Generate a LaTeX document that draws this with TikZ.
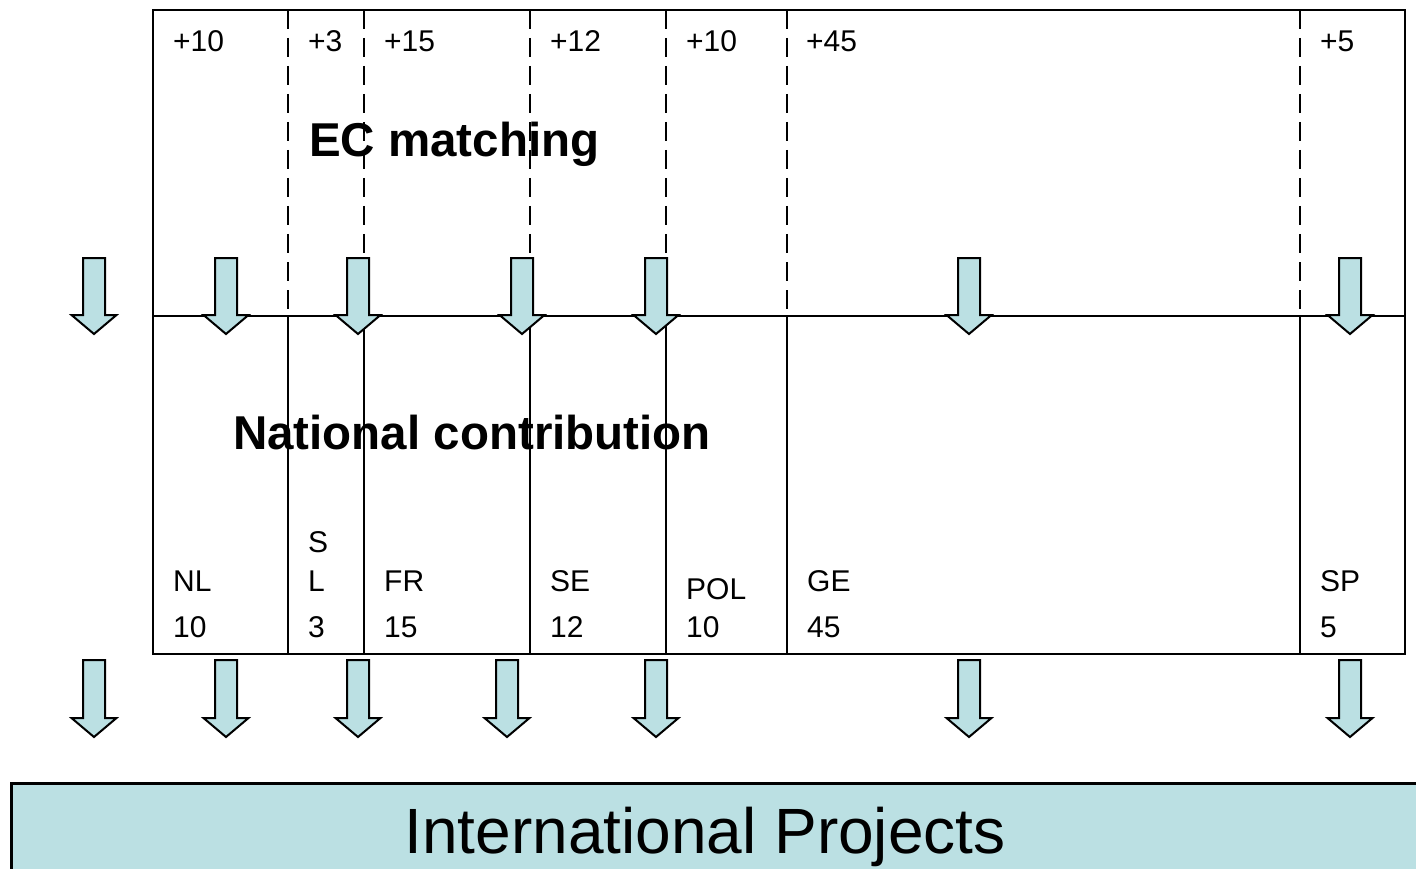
\documentclass[tikz,border=0pt]{standalone}
\usepackage{fontspec}
\setmainfont{Liberation Sans}
\definecolor{arrowfill}{RGB}{187,224,227}
\begin{document}
\begin{tikzpicture}[x=1pt,y=-1pt,
  lbl/.style={anchor=base west,inner sep=0pt,font=\fontsize{30}{30}\selectfont},
  big/.style={anchor=base west,inner sep=0pt,font=\fontsize{47.5}{47.5}\selectfont\bfseries},
  frame/.style={line width=2.8pt},
  dashline/.style={line width=2.2pt,dash pattern=on 19pt off 9pt},
  blk/.style={draw=black,line width=2pt,fill=arrowfill,line join=miter}]
\useasboundingbox (0,0) rectangle (1416,869);
\clip (0,0) rectangle (1416,869);

% bottom box
\node[draw=black,line width=2.6pt,fill=arrowfill,inner sep=0pt,minimum width=1440pt,minimum height=120pt,anchor=north west] (proj) at (10,782) {};
\node[anchor=base,inner sep=0pt,font=\fontsize{64}{64}\selectfont] (projtxt) at (705,853) {International Projects};

% texts
\node[big] (ec) at (309,157) {EC matching};
\node[big] (nat) at (233,449) {National contribution};

\node[lbl] (t1) at (173,52) {+10};
\node[lbl] (t2) at (308,52) {+3};
\node[lbl] (t3) at (384,52) {+15};
\node[lbl] (t4) at (550,52) {+12};
\node[lbl] (t5) at (686,52) {+10};
\node[lbl] (t6) at (806,52) {+45};
\node[lbl] (t7) at (1320,52) {+5};

\node[lbl] (c1a) at (173,591) {NL};
\node[lbl] (c1b) at (173,637) {10};
\node[lbl] (c2s) at (308,552) {S};
\node[lbl] (c2a) at (308,591) {L};
\node[lbl] (c2b) at (308,637) {3};
\node[lbl] (c3a) at (384,591) {FR};
\node[lbl] (c3b) at (384,637) {15};
\node[lbl] (c4a) at (550,591) {SE};
\node[lbl] (c4b) at (550,637) {12};
\node[lbl] (c5a) at (686,599) {POL};
\node[lbl] (c5b) at (686,637) {10};
\node[lbl] (c6a) at (807,591) {GE};
\node[lbl] (c6b) at (807,637) {45};
\node[lbl] (c7a) at (1320,591) {SP};
\node[lbl] (c7b) at (1320,637) {5};

% frame
\draw[frame] (153,10) rectangle (1405,654);
\draw[frame] (153,316) -- (1405,316);
\foreach \x in {288,364,530,666,787,1300}{
  \draw[dashline] (\x,10) -- (\x,316);
  \draw[frame] (\x,316) -- (\x,654);
}

% block arrows
\foreach \x in {94,226,358,522,656,969,1350}{
  \draw[blk] (\x-11,258) -- (\x+11,258) -- (\x+11,315) -- (\x+22.5,315) -- (\x,334) -- (\x-22.5,315) -- (\x-11,315) -- cycle;
}
\foreach \x in {94,226,358,507,656,969,1350}{
  \draw[blk] (\x-11,660) -- (\x+11,660) -- (\x+11,718) -- (\x+22.5,718) -- (\x,737) -- (\x-22.5,718) -- (\x-11,718) -- cycle;
}
\end{tikzpicture}
\end{document}
